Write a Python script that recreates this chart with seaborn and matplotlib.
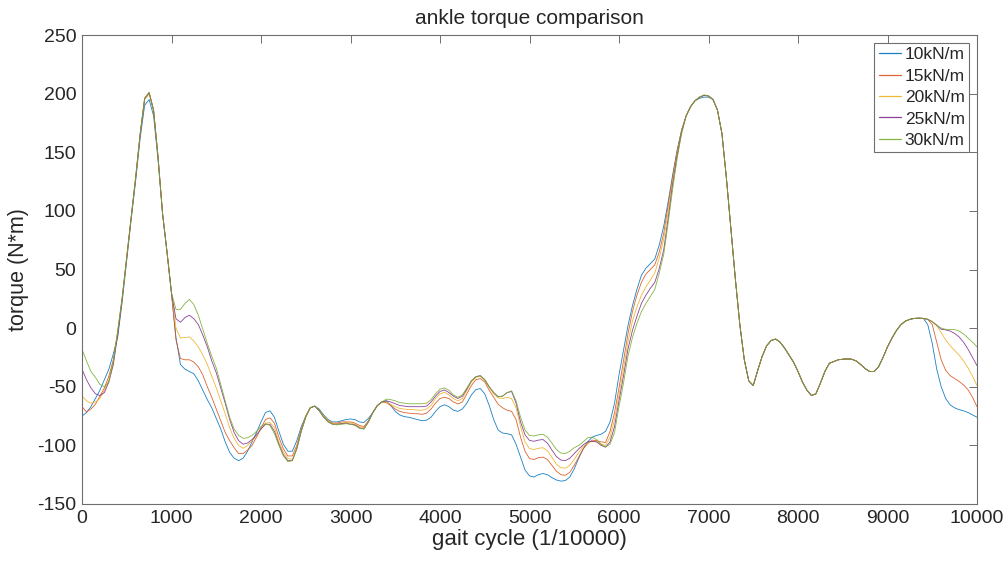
import numpy as np
import pandas as pd
import matplotlib
matplotlib.use("Agg")
import matplotlib.pyplot as plt
import seaborn as sns

# ---------------- data ----------------
gait_step = 50
gait_cycle = np.arange(0, 10001, gait_step)

labels = ["10kN/m", "15kN/m", "20kN/m", "25kN/m", "30kN/m"]
colors = ["#0072BD", "#D95319", "#EDB120", "#7E2F8E", "#77AC30"]

torque_10 = [
    -75, -72, -67, -60, -53, -44, -35, -22, -7, 23,
    58, 93, 126, 162, 190, 195, 181, 143, 97, 64,
    29, -8, -31, -35, -37, -39, -45, -53, -61, -68,
    -77, -86, -97, -106, -111, -113, -111, -105, -97, -89,
    -80, -72, -70.5, -76, -88, -99, -105, -105, -96, -84,
    -75, -68, -66.5, -69, -74, -78, -80, -80, -79, -78,
    -77.5, -78, -80, -80.5, -77, -72, -66, -63, -62, -66,
    -71, -74, -75.5, -76, -77, -78, -79, -78.5, -76, -71,
    -67, -65.4, -67, -70, -71, -69, -64, -57, -52.5, -51.5,
    -56, -66, -78, -87, -89.5, -90, -91, -99, -110, -121,
    -126, -127, -125, -124, -125, -127.5, -129.5, -130.5, -130, -127,
    -120, -111, -103, -97, -93, -91.5, -90.5, -88, -80, -64,
    -40, -19, 2, 19, 33, 45, 51, 55, 59, 71,
    87, 108, 131, 152, 169, 181, 189, 194, 196, 197,
    197, 195, 186, 166, 128, 85, 42, 3, -27, -45,
    -49, -36, -24, -15, -10.5, -9.3, -12, -17, -23, -29,
    -37, -46, -53, -57.5, -56, -47, -37, -30, -28.5, -27,
    -26.5, -26.3, -26.5, -28, -31, -34.5, -37, -37, -33, -25,
    -16, -8.5, -2, 3, 6, 7.5, 8.3, 8.5, 8.3, 3,
    -13, -35, -50, -60, -65.5, -68, -69.5, -70.5, -72, -74, -76,
]

torque_15 = [
    -67, -71.5, -69, -65, -58, -51, -41, -27, -2, 27,
    60, 94, 128, 165, 195, 200, 185, 145, 98, 65,
    30, -10, -26, -27, -27, -29, -33, -40, -50, -59,
    -69, -79, -89, -96, -102, -107, -107, -104, -100, -93,
    -85, -78, -76.5, -81, -93, -103, -109, -109, -100, -86,
    -75, -68, -66.5, -70, -75, -79, -81, -81, -80, -80,
    -80, -81, -83, -84, -79, -72, -66, -63, -63.5, -66,
    -69, -71, -72, -72.5, -73, -73, -73.5, -72.5, -69, -64,
    -60, -59, -60, -63, -64.6, -63, -56, -49, -44, -43,
    -46, -53, -59, -65, -68, -70, -71, -78, -93, -105,
    -111.3, -112, -110.5, -110, -112, -117, -122, -125, -125.5, -123,
    -117, -110, -103, -98.5, -95.5, -96, -97, -97.5, -88, -72,
    -51, -28, -5, 14, 28, 39, 46, 50, 54, 65,
    81, 105, 129, 151, 169, 181, 189, 194, 197, 198.5,
    198, 195, 186, 166, 128, 85, 42, 3, -27, -45,
    -49, -36, -24, -15, -10.5, -9.3, -12, -17, -23, -29,
    -37, -46, -53, -57.5, -56, -47, -37, -30, -28.5, -27,
    -26.5, -26.3, -26.5, -28, -31, -34.5, -37, -37, -33, -25,
    -16, -8.5, -2, 3, 6, 7.5, 8.3, 8.5, 8.3, 7.5,
    3, -12, -27, -36, -40.5, -43, -45.5, -48.5, -52.5, -59, -67,
]

torque_20 = [
    -58, -62, -64, -63, -60, -53, -44, -30, -3, 25,
    60, 95, 129, 166, 196, 201, 186, 146, 98, 65,
    30, 0, -8.5, -8, -7.5, -11, -16, -23, -31, -41,
    -51, -62, -73, -85, -94, -100, -102.5, -100, -96, -92,
    -86, -81, -80.5, -85, -97, -106, -111, -112, -102, -87,
    -75, -68, -66.5, -70, -75, -79, -81.5, -81.5, -81, -80.5,
    -81, -82, -84, -85, -80, -72, -66, -63, -63, -65,
    -67, -68.5, -69, -69.5, -69.5, -70, -70, -69, -66, -60,
    -56, -54.7, -57, -60, -62, -60, -53, -46, -42, -41,
    -44.5, -50.5, -56, -59.5, -60, -59, -60, -68, -84, -97,
    -102.8, -103.5, -102.5, -102, -104.5, -110, -116, -119, -119.5, -117,
    -112, -106, -101, -98, -96.5, -97, -99, -100, -93, -78,
    -57, -35, -12, 6, 18, 28, 35, 41, 47, 60,
    76, 100, 126, 149, 168, 181, 189, 194, 197, 198.5,
    198, 195, 186, 166, 128, 85, 42, 3, -27, -45,
    -49, -36, -24, -15, -10.5, -9.3, -12, -17, -23, -29,
    -37, -46, -53, -57.5, -56, -47, -37, -30, -28.5, -27,
    -26.5, -26.3, -26.5, -28, -31, -34.5, -37, -37, -33, -25,
    -16, -8.5, -2, 3, 6, 7.5, 8.3, 8.5, 8.3, 7.5,
    5.5, 2, -4, -10, -15, -19, -23, -28, -34, -41, -49,
]

torque_25 = [
    -35, -44, -51, -56, -57.5, -55, -46, -31, -5, 26,
    61, 95, 129, 166, 196, 201, 186, 146, 98, 65,
    30, 8, 5, 9, 11, 8, 3, -6, -16, -28,
    -38, -51, -64, -78, -89, -96, -99, -98, -95, -91,
    -86, -82, -82, -88, -99, -108, -113, -113, -103, -88,
    -76, -68, -66.5, -70.5, -76, -80, -82, -82, -81.5, -81,
    -82, -82.5, -85, -86, -80, -72, -66, -63, -62, -63,
    -64.5, -66, -66.5, -67, -67, -67, -67, -66.5, -63, -58,
    -54, -52.7, -55, -58, -60, -58, -52, -45, -41.5, -40.5,
    -44, -50, -55, -58.5, -58, -55, -54, -64, -80, -91,
    -95.8, -96.5, -95.5, -95, -98, -104, -109.5, -112.5, -113, -111,
    -107, -103, -99.5, -97, -96.5, -97, -100, -101.5, -97, -84,
    -62, -41, -18, -2, 10, 21, 28, 34, 39, 51,
    67, 94, 123, 147, 167, 181, 189, 194, 197, 198.5,
    198, 195, 186, 166, 128, 85, 42, 3, -27, -45,
    -49, -36, -24, -15, -10.5, -9.3, -12, -17, -23, -29,
    -37, -46, -53, -57.5, -56, -47, -37, -30, -28.5, -27,
    -26.5, -26.3, -26.5, -28, -31, -34.5, -37, -37, -33, -25,
    -16, -8.5, -2, 3, 6, 7.5, 8.3, 8.5, 8.3, 7.5,
    5.5, 2.5, -1, -1.5, -2.5, -4.5, -7.5, -12, -18, -25, -32,
]

torque_30 = [
    -18, -28, -37, -42, -48, -50, -46, -28, -2, 26,
    61, 95, 129, 166, 196, 201, 186, 146, 98, 65,
    30, 16, 16, 21, 24.5, 20, 11, -1, -13, -24,
    -34, -48, -62, -76, -86, -91.5, -94, -93.5, -91.5, -88,
    -84, -81.5, -83, -90, -100, -109, -114, -113, -103, -88,
    -76, -68, -66.5, -70.5, -76, -80, -82, -82.5, -82, -81.5,
    -82, -83, -85.5, -86, -80, -72, -66, -63, -60.5, -61,
    -62, -63.5, -64, -64.5, -64.5, -64.5, -64.5, -64, -61, -56,
    -52, -51, -53, -57, -59, -57, -51, -45, -41.5, -40.5,
    -44, -50, -55, -58.5, -58, -55, -53.5, -62, -76, -87,
    -91.5, -92, -91, -90.5, -93, -98, -103.5, -106.5, -107, -105,
    -102, -100, -97, -93.5, -93, -95, -99, -101.5, -99, -89,
    -67, -47, -24, -8, 4, 14, 21, 27, 33, 47,
    63, 90, 119, 145, 166, 181, 189, 194, 197, 199,
    198, 195, 186, 166, 128, 85, 42, 3, -27, -45,
    -49, -36, -24, -15, -10.5, -9.3, -12, -17, -23, -29,
    -37, -46, -53, -57.5, -56, -47, -37, -30, -28.5, -27,
    -26.5, -26.3, -26.5, -28, -31, -34.5, -37, -37, -33, -25,
    -16, -8.5, -2, 3, 6, 7.5, 8.3, 8.5, 8.3, 7.5,
    5.5, 2.5, 0, -1, -1.2, -1.3, -2.5, -5, -8.5, -12, -16,
]

x_ticks = list(range(0, 10001, 1000))
y_ticks = list(range(-150, 251, 50))

# ---------------- build long-form table ----------------
series = [torque_10, torque_15, torque_20, torque_25, torque_30]
frames = []
for lab, vals in zip(labels, series):
    frames.append(pd.DataFrame({"gait": gait_cycle, "torque": vals, "stiffness": lab}))
df = pd.concat(frames, ignore_index=True)

# ---------------- style ----------------
sns.set_style("white")
plt.rcParams["font.family"] = ["Liberation Sans", "DejaVu Sans"]
plt.rcParams["axes.unicode_minus"] = False
text_color = "#262626"
axis_color = "#6e6e6e"

fig = plt.figure(figsize=(10.08, 5.67), dpi=100)
ax = fig.add_axes([82 / 1008, 1 - 504 / 567, (977 - 82) / 1008, (504 - 35) / 567])

sns.lineplot(data=df, x="gait", y="torque", hue="stiffness",
             palette=dict(zip(labels, colors)), hue_order=labels,
             linewidth=0.6, alpha=0.9, ax=ax, sort=False, estimator=None)

ax.set_xlim(0, 10000)
ax.set_ylim(-150, 250)
ax.set_xticks(x_ticks)
ax.set_yticks(y_ticks)
ax.tick_params(direction="in", top=True, right=True, length=6, width=0.7,
               colors=axis_color, labelcolor=text_color, labelsize=14, pad=4)
for sp in ax.spines.values():
    sp.set_color(axis_color)
    sp.set_linewidth(0.8)

ax.set_title("ankle torque comparison", fontsize=15, color=text_color, pad=8)
ax.set_xlabel("gait cycle (1/10000)", fontsize=16, color=text_color, labelpad=2)
ax.set_ylabel("torque (N*m)", fontsize=15.5, color=text_color, labelpad=6)

leg = ax.legend(loc="upper right", fontsize=12.5, frameon=True, fancybox=False,
                framealpha=1, edgecolor=axis_color, borderpad=0.25,
                labelspacing=0.36, handlelength=1.3, handletextpad=0.2,
                borderaxespad=0.45)
leg.get_frame().set_linewidth(0.8)
for t in leg.get_texts():
    t.set_color(text_color)
for h in leg.get_lines():
    h.set_linewidth(0.9)

fig.savefig("out.png", dpi=100)
